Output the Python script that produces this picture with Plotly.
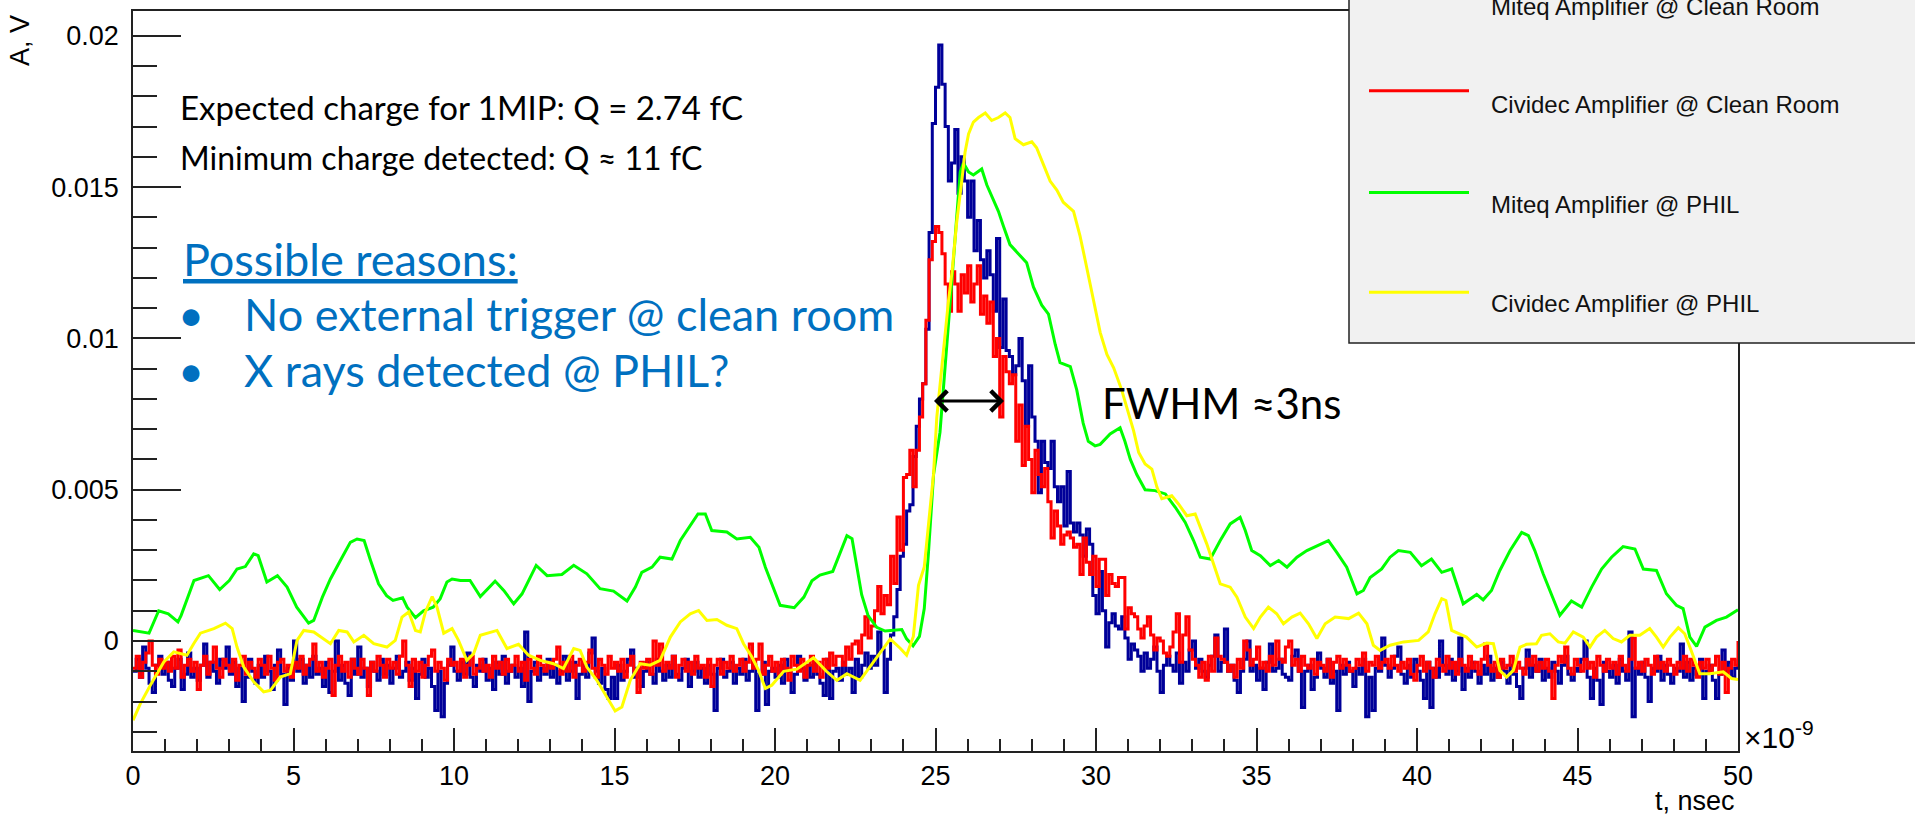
import plotly.graph_objects as go

# ---------------- data ----------------
SERIES_NAMES = ["Miteq Amplifier @ Clean Room", "Cividec Amplifier @ Clean Room",
                "Miteq Amplifier @ PHIL", "Cividec Amplifier @ PHIL"]
SERIES_COLORS = ["#000099", "#ff0000", "#00ff00", "#ffff00"]

SAMPLE_STEP_NS = 0.1  # sampling step of the clean-room waveforms

# Miteq @ Clean Room, amplitude in mV, one value per 0.1 ns from 0 to 50 ns
miteq_clean_mV = [
    -1.0, -0.6, -1.2, -0.2, -0.9, -1.4, -1.7, -0.8, -0.5, -1.1,
    -0.7, -1.3, -1.5, -0.9, -0.6, -1.6, -1.1, -0.4, -1.2, -0.9,
    -1.3, -0.8, -0.1, -1.2, -0.7, -1.0, -1.4, -0.6, -0.9, -0.2,
    -1.1, -0.7, -1.5, -0.9, -2.0, -1.2, -0.6, -1.0, -1.4, -0.8,
    -1.2, -0.5, -1.0, -1.6, -0.8, -0.3, -1.1, -2.1, -0.9, -1.3,
    0.0, -1.0, -0.6, -1.4, -0.8, -1.2, -0.5, -1.1, -0.9, -1.5,
    -0.7, -1.7, -1.0, 0.0, -1.3, -0.8, -1.4, -1.8, -0.6, -1.1,
    -0.2, -1.2, -0.9, -1.5, -0.7, -1.0, -1.3, -0.6, -1.1, -0.8,
    -1.4, -0.9, -0.5, -1.2, -1.0, -0.7, -1.3, -0.9, -1.9, -1.1,
    -0.6, -1.2, -0.9, -1.5, -2.3, -1.0, -2.5, -1.4, -0.8, -0.2,
    -1.0, -1.3, -0.7, -1.1, -0.4, -1.2, -1.5, -0.8, -1.0, -0.6,
    -1.3, -0.9, -1.6, -0.7, -1.1, -0.5, -1.4, -1.0, -0.8, -1.2,
    -0.9, -1.5, 0.3, -2.0, -1.0, -0.7, -1.3, -0.9, -1.1, -0.6,
    -1.2, -0.8, -1.4, -1.0, -0.5, -1.3, -1.0, -0.7, -1.9, -1.1,
    -0.8, -1.2, -0.4, 0.1, -1.0, -1.4, -0.9, -1.6, -1.9, -1.2,
    -1.9, -0.8, -1.3, -1.0, -0.6, -0.3, -1.2, -0.9, -1.5, -1.0,
    -0.7, -1.1, -1.4, -0.6, -1.0, -1.3, -0.8, -1.2, -0.5, -1.1,
    -1.3, -0.9, -0.6, -1.5, -1.0, -0.7, -1.2, -0.9, -1.4, -0.8,
    -1.1, -2.3, -0.9, -0.6, -1.2, -1.0, -0.7, -1.4, -0.9, -1.1,
    -0.6, -1.3, -1.0, -0.8, -2.3, -1.1, -0.7, -2.1, -1.0, -0.9,
    -1.2, -0.8, -1.4, -0.6, -1.0, -1.7, -1.1, -0.5, -0.9, -1.3,
    -0.8, -1.2, -0.7, -1.1, -1.4, -1.8, -0.6, -1.9, -1.0, -0.9,
    -1.3, -0.7, -1.1, -0.9, -1.7, -0.6, -1.2, -0.8, -0.4, -0.9,
    -0.5, -0.8, 0.3, -0.3, -1.7, -0.6, 0.2, 0.8, 1.7, 2.8,
    3.2, 4.3, 4.5, 6.1, 7.1, 8.0, 8.5, 10.3, 13.5, 17.1,
    18.3, 19.7, 18.4, 17.0, 15.2, 15.8, 16.9, 14.8, 16.0, 15.2,
    14.0, 15.2, 12.9, 13.9, 12.6, 12.0, 12.9, 12.1, 10.9, 13.3,
    9.7, 11.3, 9.6, 9.4, 8.8, 9.1, 10.0, 8.6, 7.1, 9.1,
    7.4, 6.6, 4.9, 6.6, 5.9, 5.7, 6.6, 5.1, 4.6, 5.1,
    3.8, 5.6, 3.9, 3.6, 3.9, 3.5, 2.8, 3.7, 3.2, 1.5,
    0.9, 2.3, 1.0, -0.2, 0.6, 0.9, 0.5, 0.4, 0.8, 0.1,
    -0.6, -0.1, -0.3, -0.5, -1.0, -0.4, -0.9, -0.6, -0.2, -1.0,
    -1.7, -0.8, -0.5, -0.8, -1.0, -0.4, -1.4, -0.7, -1.0, -0.3,
    0.0, -0.9, -0.6, -1.0, -1.2, -0.8, -0.5, 0.2, -1.0, -0.7,
    0.4, -1.0, -0.8, -1.3, -1.7, -1.0, -0.6, 0.0, -1.0, -0.8,
    -1.3, -0.9, -1.6, -0.7, -0.1, -1.0, -0.9, -0.6, -1.1, -1.2,
    -1.3, -0.5, -0.3, -1.0, -2.2, -1.0, -0.8, -1.6, -1.2, -0.4,
    -0.9, -1.2, -0.6, -1.4, -1.0, -2.3, -0.8, -1.1, -0.7, -1.0,
    -1.5, -0.9, -1.1, -0.6, -2.5, -1.2, -2.3, -0.9, -1.0, 0.1,
    -0.8, -1.2, -0.9, -0.5, -0.2, -1.1, -1.4, -0.8, -1.2, -0.6,
    -1.0, -1.3, -1.9, -0.7, -2.2, -0.9, -1.2, 0.0, -0.8, -1.1,
    -0.6, -1.3, -1.0, 0.1, -1.6, -0.9, -1.2, -0.7, -1.0, -1.4,
    -0.8, -1.1, -0.5, -1.3, -0.9, -1.2, -0.7, -1.0, -1.4, -0.8,
    -1.1, -1.5, -1.9, -0.9, -0.3, -1.2, -0.8, -1.0, -0.6, -1.3,
    -0.9, -1.2, -0.7, -1.0, -1.4, -0.8, -0.5, -1.1, -1.3, -0.9,
    -1.0, -0.6, 0.0, -1.2, -1.9, -0.9, -1.3, -2.1, -0.7, -1.0,
    -1.2, -0.8, -1.4, -0.6, -1.0, -1.3, 0.3, -2.5, -0.9, -1.1,
    -0.7, -1.2, -2.0, -0.9, -1.0, -0.5, -1.3, -0.8, -1.1, -1.4,
    -0.9, -1.0, -0.1, -1.2, -0.7, -1.3, -0.9, -1.1, -0.6, -1.9,
    -1.0, -0.8, -1.3, -1.9, -1.1, -0.3, -1.0, -0.7, -1.2, -0.9,
    -0.6,
]

# Cividec @ Clean Room, amplitude in mV, one value per 0.1 ns from 0 to 50 ns
cividec_clean_mV = [
    -0.9, -0.5, -1.2, -0.7, -0.4, 0.0, -0.8, -1.1, -0.6, -0.9,
    -0.7, -1.0, -0.5, -0.9, -0.3, -1.2, -0.8, -0.6, -1.0, -0.7,
    -1.6, -0.8, -0.5, -1.1, -0.7, -0.2, -0.9, -1.2, -0.6, -0.8,
    -1.0, -0.6, -1.3, -0.8, -0.5, -1.1, -0.7, -0.9, -1.2, -0.6,
    -0.8, -1.1, -0.5, -0.9, -1.3, -0.7, -0.6, -1.0, -0.8, -1.2,
    -0.7, -0.9, -0.5, -1.1, -0.8, -0.6, -0.1, -1.0, -0.7, -1.2,
    -0.9, -0.6, -1.8, -0.8, -0.5, -1.0, -0.7, -1.2, -0.6, -0.9,
    -1.1, -0.6, -0.9, -1.8, -0.7, -1.0, -0.5, -0.8, -1.2, -0.6,
    -0.9, -0.7, -1.1, -0.5, 0.0, -0.8, -1.5, -0.6, -1.0, -0.7,
    -1.2, -0.8, -0.5, -0.3, -1.0, -0.7, -0.9, -1.3, -0.6, -0.8,
    -0.7, -1.0, -0.6, -1.2, -0.8, -0.5, -1.1, -0.9, -0.6, -1.0,
    -0.8, -1.2, -0.5, -0.9, -0.7, -1.1, -0.6, -1.0, -0.8, -0.5,
    -1.0, -0.7, -1.3, -0.6, -0.9, -1.1, -0.5, -0.8, -1.0, -0.7,
    -0.9, -0.6, -0.2, -1.1, -0.7, -1.0, -0.5, -1.2, -0.8, -0.6,
    -1.0, -0.7, -0.3, -0.9, -1.2, -0.6, -0.8, -1.1, -0.5, -0.9,
    -0.7, -1.0, -0.6, -1.2, -0.8, -0.5, -1.0, -1.7, -0.7, -0.9,
    -0.6, -1.1, 0.0, -0.8, -0.1, -1.0, -0.7, -0.9, -0.5, -1.2,
    -0.8, -0.6, -1.0, -0.7, -1.1, -0.5, -0.9, -0.8, -1.2, -0.6,
    -1.5, -0.8, -0.6, -1.1, -0.7, -0.9, -0.5, -1.0, -0.8, -0.6,
    -1.0, -0.7, -0.1, -0.9, -0.6, -0.1, -1.1, -0.8, -0.5, -1.0,
    -0.7, -1.1, -0.6, -0.9, -1.3, -0.5, -0.8, -1.0, -0.6, -1.2,
    -0.8, -0.5, -1.0, -0.7, -1.2, -0.6, -0.9, -0.4, -0.8, -0.5,
    -0.5, -0.8, -0.2, -0.6, -0.1, 0.0, -0.4, 0.2, 0.8, 0.1,
    0.5, 1.0, 1.8, 0.9, 1.5, 1.2, 2.8, 1.9, 4.1, 3.0,
    5.4, 5.5, 6.3, 5.1, 6.3, 7.4, 8.5, 10.6, 12.6, 13.2,
    13.7, 13.5, 12.8, 11.8, 10.9, 12.2, 11.8, 10.9, 12.1, 11.5,
    12.4, 11.2, 11.8, 12.4, 10.8, 11.4, 10.5, 11.2, 9.4, 10.0,
    7.4, 9.4, 8.9, 8.5, 8.8, 6.6, 7.8, 5.8, 7.1, 6.0,
    4.9, 6.3, 5.5, 5.1, 5.7, 4.6, 3.4, 4.3, 3.8, 3.2,
    3.5, 3.6, 3.4, 3.1, 3.2, 2.2, 3.4, 2.6, 2.2, 2.8,
    1.8, 2.7, 2.7, 1.5, 2.2, 1.9, 1.8, 2.1, 2.1, 0.4,
    1.1, 0.9, 0.8, 0.4, 0.1, 0.5, 0.8, 0.2, -0.3, 0.1,
    0.0, -0.4, -0.5, -0.2, 0.3, 0.9, -0.7, 0.2, 0.8, -0.3,
    -0.6, -0.8, -1.2, -0.7, -1.3, -0.5, -1.0, 0.1, -0.5, -0.6,
    -0.7, -1.0, -0.8, -1.2, -0.6, -0.9, 0.0, -0.3, -0.8, -0.6,
    -0.2, -0.9, -0.7, -1.0, -0.5, -0.8, 0.0, -0.6, -0.7, -0.2,
    0.0, -0.8, -0.6, -1.0, -0.5, -0.8, -0.9, -0.6, -1.1, -0.7,
    -0.8, -1.0, -0.6, -1.2, -0.7, -0.5, -0.9, -0.6, -0.8, -1.0,
    -0.9, -0.6, -0.8, -0.4, -1.0, -0.7, -0.8, -0.5, -0.9, -0.7,
    -0.6, -0.9, -0.5, -0.8, -1.0, -0.7, -0.9, -0.6, -1.1, -1.3,
    -0.8, -0.5, -1.0, -0.7, -0.9, -1.2, -0.6, -0.8, -1.0, -0.5,
    -0.9, -0.7, -1.1, -0.6, -0.8, -1.0, -0.5, -0.9, -0.7, -1.1,
    -0.6, -0.1, -0.8, -1.0, -0.7, -1.2, -0.6, -0.9, -0.8, -0.5,
    -1.0, -0.7, -0.9, -1.1, -0.6, -0.8, -0.5, -1.0, -0.7, -0.9,
    -0.6, -1.0, -1.9, -0.8, -0.5, -0.7, -0.2, -0.9, -1.1, -0.6,
    -0.8, -1.0, -0.6, -0.9, -0.7, -1.2, -0.5, -0.8, -1.0, -0.6,
    -0.9, -0.7, -1.1, -0.5, -0.8, -1.0, -0.6, 0.1, -0.9, -0.7,
    -1.0, -0.6, -0.8, -1.1, -0.5, -0.9, -0.7, -1.0, -0.6, -0.8,
    -1.1, -0.7, -0.9, -0.5, -1.0, -0.6, -0.8, -1.2, -0.7, -0.9,
    -0.6, -1.0, -0.8, -0.5, -1.1, -0.7, -1.7, -0.9, -0.6, -0.8,
    0.0,
]

# Miteq @ PHIL (time in ns, amplitude in mV)
miteq_phil_t_ns = [
    0.0, 0.5, 0.8, 1.1, 1.4, 1.5, 1.9, 2.35, 2.7, 3.0, 3.24, 3.5, 3.76, 3.9, 4.17, 4.5, 4.8,
    5.1, 5.47, 5.63, 5.9, 6.15, 6.46, 6.77, 6.98, 7.2, 7.4, 7.65, 7.9, 8.1, 8.4, 8.54, 8.8,
    9.05, 9.35, 9.57, 9.78, 9.94, 10.2, 10.5, 10.82, 11.28, 11.55, 11.86, 12.12, 12.38,
    12.56, 12.9, 13.36, 13.73, 14.14, 14.55, 14.97, 15.39, 15.65, 15.85, 16.17, 16.42,
    16.79, 17.05, 17.36, 17.6, 17.83, 18.03, 18.5, 18.81, 19.23, 19.5, 19.7, 19.95, 20.16,
    20.6, 20.9, 21.15, 21.4, 21.8, 22.03, 22.24, 22.4, 22.55, 22.7, 22.9, 23.17, 23.43,
    23.95, 24.1, 24.3, 24.5, 24.65, 24.78, 24.94, 25.14, 25.3, 25.45, 25.56, 25.66, 25.77,
    25.87, 26.03, 26.18, 26.44, 26.6, 26.75, 26.96, 27.12, 27.32, 27.58, 27.84, 28.05,
    28.31, 28.52, 28.73, 28.88, 29.2, 29.4, 29.6, 29.76, 29.97, 30.13, 30.44, 30.75, 30.9,
    31.07, 31.27, 31.53, 31.84, 32.16, 32.47, 32.78, 33.04, 33.25, 33.56, 33.87, 34.18,
    34.49, 34.65, 34.85, 35.12, 35.43, 35.69, 35.95, 36.26, 36.57, 36.98, 37.24, 37.5,
    37.81, 38.13, 38.33, 38.54, 38.9, 39.16, 39.42, 39.79, 40.14, 40.45, 40.77, 41.08,
    41.44, 41.86, 42.06, 42.32, 42.58, 42.9, 43.26, 43.47, 43.67, 43.93, 44.19, 44.45,
    44.81, 45.13, 45.44, 45.75, 46.06, 46.42, 46.79, 47.05, 47.46, 47.77, 48.08, 48.29,
    48.5, 48.71, 48.97, 49.33, 49.64, 50.0,
]
miteq_phil_mV = [
    0.35, 0.26, 1.0, 0.9, 0.63, 0.85, 2.0, 2.16, 1.7, 2.0, 2.38, 2.46, 2.88, 2.82, 1.95, 2.16, 1.78,
    1.12, 0.59, 0.68, 1.45, 2.05, 2.66, 3.26, 3.37, 3.32, 2.66, 1.89, 1.5, 1.34, 1.43, 1.12, 0.77,
    1.0, 1.12, 1.4, 1.95, 2.05, 2.0, 2.0, 1.47, 1.98, 1.67, 1.23, 1.56, 2.1,
    2.5, 2.16, 2.2, 2.5, 2.22, 1.73, 1.65, 1.32, 1.78, 2.27, 2.44, 2.77,
    2.71, 3.32, 3.81, 4.2, 4.2, 3.65, 3.6, 3.37, 3.43, 3.1, 2.44, 1.73, 1.18,
    1.1, 1.45, 1.99, 2.18, 2.3, 2.91, 3.48, 3.38, 2.45, 1.53, 0.84, 0.45, 0.33,
    0.38, 0.07, -0.16, 0.15, 1.07, 2.9, 5.5, 6.9, 9.2, 11.2, 12.6, 14.0, 15.5,
    15.8, 15.5, 15.4, 15.6, 15.07, 14.7, 14.2, 13.7, 13.1, 12.8, 12.5, 11.7,
    11.1, 10.8, 9.8, 9.2, 9.07, 8.3, 7.2, 6.6, 6.45, 6.5, 6.84, 7.05, 6.6,
    6.0, 5.5, 5.0, 4.97, 4.86, 4.42, 3.92, 3.32, 2.77, 2.71, 3.32, 3.87,
    4.09, 3.65, 2.99, 2.82, 2.49, 2.66, 2.44, 2.77, 2.99, 3.2, 3.32, 2.93,
    2.44, 1.56, 1.67, 2.1, 2.38, 2.77, 2.99, 2.93, 2.49, 2.71, 2.27, 2.38,
    1.23, 1.54, 1.36, 1.67, 2.33, 2.99, 3.59, 3.48, 2.99, 2.22, 1.56, 0.85,
    1.32, 1.12, 1.78, 2.38, 2.77, 3.12, 3.04, 2.38, 2.33, 1.56, 1.18, 1.07,
    0.13, -0.18, 0.46, 0.68, 0.79, 1.03,
]

# Cividec @ PHIL (time in ns, amplitude in mV)
cividec_phil_t_ns = [
    0.0, 0.23, 0.54, 0.96, 1.27, 1.68, 1.89, 2.1, 2.52, 2.88, 3.09, 3.24, 3.45, 3.76, 4.07,
    4.28, 4.59, 4.9, 5.11, 5.32, 5.63, 6.15, 6.41, 6.67, 6.88, 7.19, 7.5, 7.91, 8.17, 8.38,
    8.59, 8.8, 8.95, 9.11, 9.32, 9.47, 9.68, 9.94, 10.14, 10.4, 10.61, 10.82, 11.34, 11.65,
    12.01, 12.32, 12.69, 13.1, 13.41, 13.73, 13.93, 14.14, 14.45, 14.76, 15.02, 15.23,
    15.49, 15.8, 16.11, 16.42, 16.74, 17.05, 17.36, 17.62, 17.88, 18.19, 18.5, 18.81,
    19.02, 19.28, 19.49, 19.7, 19.9, 20.27, 20.68, 21.2, 21.6, 21.93, 22.24, 22.65, 22.96,
    23.28, 23.59, 23.9, 24.1, 24.31, 24.47, 24.65, 24.78, 24.94, 25.04, 25.2, 25.3, 25.4,
    25.51, 25.66, 25.82, 25.92, 26.03, 26.18, 26.34, 26.55, 26.75, 26.96, 27.17, 27.32,
    27.48, 27.74, 28.0, 28.15, 28.36, 28.57, 28.78, 28.98, 29.3, 29.5, 29.66, 29.82,
    29.97, 30.13, 30.34, 30.55, 30.8, 31.0, 31.17, 31.33, 31.53, 31.74, 31.9, 32.05,
    32.36, 32.57, 32.83, 33.09, 33.25, 33.45, 33.66, 33.87, 34.18, 34.39, 34.65, 34.91,
    35.12, 35.37, 35.63, 35.84, 36.1, 36.36, 36.62, 36.88, 37.14, 37.45, 37.87, 38.18,
    38.44, 38.64, 38.85, 39.16, 39.58, 40.05, 40.35, 40.56, 40.77, 40.9, 41.08, 41.34,
    41.54, 41.86, 42.17, 42.38, 42.58, 42.79, 43.0, 43.21, 43.41, 43.72, 43.88, 44.14,
    44.4, 44.61, 44.87, 45.18, 45.39, 45.59, 45.85, 46.11, 46.37, 46.63, 46.94, 47.25,
    47.46, 47.67, 47.88, 48.14, 48.34, 48.5, 48.66, 48.81, 49.12, 49.54, 49.8, 50.0,
]
cividec_phil_mV = [
    -2.62, -2.07, -1.46, -0.69, -0.36, -0.47, -0.09, 0.26, 0.41, 0.59, 0.41, -0.2, -0.86, -1.35, -1.68,
    -1.63, -1.19, -1.08, 0.02, 0.35, 0.3, -0.09, 0.35, 0.3, -0.03, 0.19, -0.09, -0.2, 0.02, 0.79,
    0.96, 0.35, 0.3, 0.96, 1.47, 1.12, 0.26, 0.41, 0.02, -0.64, -0.42, 0.19, 0.35, -0.25,
    -0.11, -0.47, -0.64, -0.75, -0.91, -0.25, -0.31, -0.86, -1.3, -1.85, -2.31, -2.18,
    -1.3, -0.75, -0.8, -0.64, 0.13, 0.63, 0.9, 1.01, 0.68, 0.71, 0.52, 0.41,
    -0.09, -0.53, -0.97, -1.57, -1.46, -1.0, -0.93, -0.55, -1.0, -1.3, -1.08, -1.3, -0.85,
    -0.39, 0.07, -0.24, -0.47, 0.15, 1.84, 2.45, 3.84, 5.53, 7.38, 9.07, 10.3, 11.2,
    12.15, 13.84, 15.22, 16.15, 16.76, 17.15, 17.3, 17.45, 17.2, 17.3, 17.45, 17.3,
    16.6, 16.4, 16.5, 16.3, 15.75, 15.2, 14.9, 14.5, 14.2, 13.4, 12.6, 11.8,
    11.1, 10.2, 9.47, 9.03, 8.3, 7.6, 6.95, 6.23, 5.85, 5.68, 5.08, 4.7,
    4.8, 4.53, 4.14, 4.2, 3.76, 3.21, 2.55, 1.89, 1.78, 1.45, 0.79, 0.41,
    0.79, 1.12, 0.9, 0.57, 0.79, 0.92, 0.57, 0.08, 0.57, 0.79, 0.74, 0.92,
    0.57, -0.14, -0.31, -0.14, -0.03, 0.02, 0.3, 0.9, 1.4, 1.34, 0.35, 0.24,
    0.13, -0.2, -0.07, -0.09, -0.97, -1.19, -0.97, -0.2, -0.11, -0.09, 0.19, 0.24,
    -0.03, -0.07, 0.3, 0.13, -0.2, 0.13, 0.35, 0.08, -0.03, 0.19, 0.19, 0.41,
    0.13, -0.2, 0.13, 0.44, 0.24, -0.2, -0.64, -1.08, -1.08, -1.02, -1.24, -1.27,
]

X_RANGE_NS = [0, 50]
Y_RANGE_V = [-0.003635, 0.02082]

# ---------------- figure ----------------
FIG_W, FIG_H = 1915, 815
L, R, T, B = 133, 177, 9, 64
PW, PH = FIG_W - L - R, FIG_H - T - B


def px(x):
    return (x - L) / PW


def py(y):
    return (T + PH - y) / PH


clean_t = [round(i * SAMPLE_STEP_NS, 2) for i in range(len(miteq_clean_mV))]

fig = go.Figure()
fig.add_trace(go.Scatter(x=clean_t, y=[v / 1000 for v in miteq_clean_mV], mode="lines",
                         name=SERIES_NAMES[0],
                         line=dict(color=SERIES_COLORS[0], width=3, shape="hv")))
fig.add_trace(go.Scatter(x=clean_t, y=[v / 1000 for v in cividec_clean_mV], mode="lines",
                         name=SERIES_NAMES[1],
                         line=dict(color=SERIES_COLORS[1], width=3, shape="hv")))
fig.add_trace(go.Scatter(x=miteq_phil_t_ns, y=[v / 1000 for v in miteq_phil_mV], mode="lines",
                         name=SERIES_NAMES[2],
                         line=dict(color=SERIES_COLORS[2], width=3)))
fig.add_trace(go.Scatter(x=cividec_phil_t_ns, y=[v / 1000 for v in cividec_phil_mV], mode="lines",
                         name=SERIES_NAMES[3],
                         line=dict(color=SERIES_COLORS[3], width=3)))

AX = "#222222"
TICK_FONT = dict(family="Liberation Sans, Arial, sans-serif", size=27, color="black")

fig.update_layout(
    width=FIG_W, height=FIG_H,
    margin=dict(l=L, r=R, t=T, b=B, pad=0),
    paper_bgcolor="white", plot_bgcolor="white",
    showlegend=False,
    xaxis=dict(range=X_RANGE_NS, showgrid=False, zeroline=False, showline=True, mirror=True,
               linecolor=AX, linewidth=1.5, ticks="inside", ticklen=23, tickwidth=1.5,
               tickcolor=AX, tick0=0, dtick=5, tickfont=TICK_FONT, ticklabelstandoff=0,
               minor=dict(ticks="inside", ticklen=12, tickwidth=1.5, tickcolor=AX,
                          tick0=0, dtick=1, showgrid=False)),
    yaxis=dict(range=Y_RANGE_V, showgrid=False, zeroline=False, showline=True, mirror=True,
               linecolor=AX, linewidth=1.5, ticks="inside", ticklen=48, tickwidth=1.5,
               tickcolor=AX, tick0=0, dtick=0.005, tickformat="~g", tickfont=TICK_FONT,
               ticklabelstandoff=7,
               minor=dict(ticks="inside", ticklen=24, tickwidth=1.5, tickcolor=AX,
                          tick0=0, dtick=0.001, showgrid=False)),
)

ann = []
SLIDE_FONT = "Lato, 'Open Sans', sans-serif"
BLUE_TXT = "#0070C0"


def text(x, y, s, size, color, family=SLIDE_FONT, xanchor="left", angle=0):
    ann.append(dict(xref="paper", yref="paper", x=px(x), y=py(y), text=s, showarrow=False,
                    xanchor=xanchor, yanchor="middle", textangle=angle,
                    font=dict(family=family, size=size, color=color)))


text(178, 105, "Expected charge for 1MIP: Q = 2.74 fC", 33, "black")
text(178, 156, "Minimum charge detected: Q ≈ 11 fC", 32, "black")
text(181, 258, "<u>Possible reasons:</u>", 45, BLUE_TXT)
text(191, 313, "•", 45, BLUE_TXT, xanchor="center")
text(242, 313, "No external trigger @ clean room", 45, BLUE_TXT)
text(191, 369, "•", 45, BLUE_TXT, xanchor="center")
text(242, 369, "X rays detected @ PHIL?", 45, BLUE_TXT)
text(1100, 402, "FWHM ≈3ns", 42, "black")

# FWHM double arrow
ann.append(dict(xref="paper", yref="paper", x=px(1004), y=py(400),
                axref="pixel", ayref="pixel", ax=-(1004 - 931), ay=0,
                showarrow=True, arrowside="end+start", arrowhead=4, startarrowhead=4,
                arrowsize=1.3, startarrowsize=1.3, arrowwidth=3, arrowcolor="black",
                standoff=0, startstandoff=0, text=" "))

# axis titles
AXIS_FONT = "Liberation Sans, Arial, sans-serif"
text(20, 39, "A, V", 27, "black", family=AXIS_FONT, xanchor="center", angle=-90)
text(1737, 801, "t, nsec", 27, "black", family=AXIS_FONT, xanchor="right")
text(1742, 735, "×10<sup>-9</sup>", 30, "black", family=AXIS_FONT)

# legend box (ROOT style)
shapes = [dict(type="rect", xref="paper", yref="paper", x0=px(1349), x1=px(1925),
               y0=py(342), y1=py(-5), fillcolor="#f1f1f1",
               line=dict(color="#222222", width=1.5), layer="above")]
legend_line_y = [-11, 89, 191, 291]
legend_text_y = [4, 103, 203, 302]
for name, color, ly, ty in zip(SERIES_NAMES, SERIES_COLORS, legend_line_y, legend_text_y):
    shapes.append(dict(type="line", xref="paper", yref="paper", x0=px(1369), x1=px(1469),
                       y0=py(ly), y1=py(ly), line=dict(color=color, width=3), layer="above"))
    text(1489, ty, name, 24, "#111111", family=AXIS_FONT)

fig.update_layout(annotations=ann, shapes=shapes)

fig.write_html("out.html", config={"displayModeBar": False})
